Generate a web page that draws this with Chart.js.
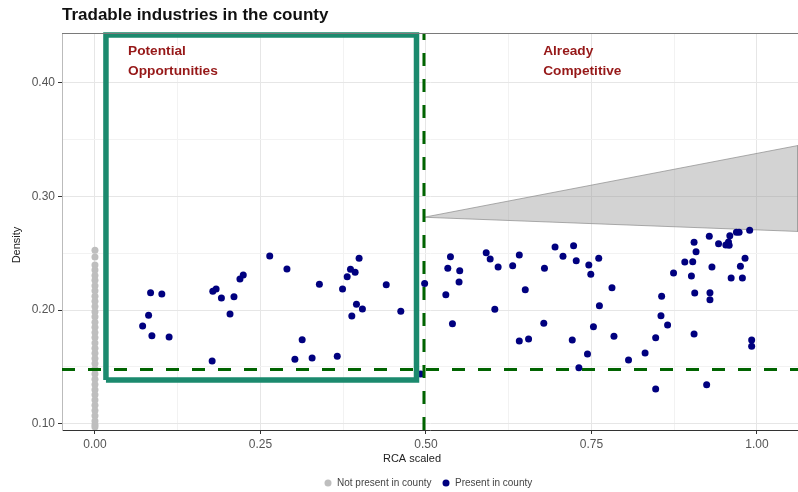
<!DOCTYPE html>
<html>
<head>
<meta charset="utf-8">
<script src="https://cdn.jsdelivr.net/npm/chart.js@4.4.1/dist/chart.umd.min.js"></script>
<style>
  html, body { margin: 0; padding: 0; background: #fff; }
  #wrap { width: 798px; height: 492px; }
</style>
</head>
<body>
<div id="wrap"><canvas id="chart" width="798" height="492"></canvas></div>
<script>
//Eixos
const xGrid = [0, 0.125, 0.25, 0.375, 0.5, 0.625, 0.75, 0.875, 1];
const yGrid = [0.10, 0.15, 0.20, 0.25, 0.30, 0.35, 0.40];
const xRange = [-0.0498, 1.062];
const yRange = [0.0943, 0.444];

//Industrias presentes no condado (RCA scaled, Density)
const presentX = [
  0.084, 0.101, 0.081, 0.072, 0.086, 0.112, 0.178, 0.183, 0.191, 0.210, 0.204,
  0.219, 0.224, 0.177, 0.264, 0.290, 0.339, 0.313, 0.302, 0.328, 0.366, 0.374,
  0.381, 0.386, 0.393, 0.399, 0.395, 0.404, 0.388, 0.440, 0.462, 0.498, 0.492,
  0.537, 0.533, 0.551, 0.550, 0.530, 0.540, 0.591, 0.597, 0.609, 0.604, 0.631,
  0.641, 0.650, 0.641, 0.655, 0.679, 0.678, 0.695, 0.707, 0.723, 0.727, 0.746,
  0.749, 0.761, 0.781, 0.762, 0.753, 0.784, 0.721, 0.744, 0.731, 0.806,
  0.831, 0.847, 0.847, 0.855, 0.865, 0.856, 0.874, 0.891, 0.903, 0.901, 0.905,
  0.908, 0.906, 0.905, 0.924, 0.928, 0.932, 0.929, 0.929, 0.942, 0.953, 0.957,
  0.958, 0.959, 0.961, 0.969, 0.973, 0.982, 0.975, 0.978, 0.989, 0.992, 0.992
];
const presentY = [
  0.2152, 0.2141, 0.1953, 0.1859, 0.1774, 0.1762, 0.2165, 0.2185, 0.2106, 0.2117, 0.1965,
  0.2273, 0.2308, 0.1551, 0.2476, 0.2361, 0.2226, 0.1738, 0.1566, 0.1577, 0.1592, 0.2185,
  0.2293, 0.2359, 0.2332, 0.2455, 0.2050, 0.2009, 0.1947, 0.2223, 0.1989, 0.2233, 0.1436,
  0.2470, 0.2367, 0.2346, 0.2247, 0.2135, 0.1879, 0.2505, 0.2449, 0.2379, 0.2006, 0.2390,
  0.2485, 0.2179, 0.1727, 0.1744, 0.2367, 0.1883, 0.2555, 0.2473, 0.2567, 0.2434, 0.2396,
  0.2315, 0.2456, 0.2196, 0.2038, 0.1853, 0.1768, 0.1736, 0.1612, 0.1492, 0.1559,
  0.1621, 0.1756, 0.1304, 0.1950, 0.1868, 0.2121, 0.2326, 0.2423, 0.2426, 0.2300, 0.2596,
  0.2514, 0.2150, 0.1789, 0.1342, 0.2649, 0.2379, 0.2152, 0.2091, 0.2584, 0.2573, 0.2599,
  0.2570, 0.2655, 0.2282, 0.2685, 0.2685, 0.2456, 0.2385, 0.2282, 0.2702, 0.1736, 0.1680
];

//Industrias ausentes (todas em RCA = 0)
const absentY = [
  0.2526, 0.2467, 0.2396, 0.2352, 0.2305, 0.2261, 0.2214, 0.2170, 0.2122, 0.2078,
  0.2031, 0.1985, 0.1940, 0.1893, 0.1848, 0.1801, 0.1757, 0.1710, 0.1664, 0.1619,
  0.1572, 0.1528, 0.1481, 0.1436, 0.1390, 0.1344, 0.1298, 0.1253, 0.1207, 0.1160,
  0.1115, 0.1069, 0.1023, 0.0990, 0.0970
];

//Linhas de referencia e marcacoes
const cutX = 0.497;
const cutY = 0.1476;
const boxX = [0.0166, 0.4857];
const boxY = [0.1383, 0.4423];
const wedgeX = [0.497, 1.062, 1.062];
const wedgeY = [0.2817, 0.3449, 0.2692];

const titleText = 'Tradable industries in the county';
const xTitle = 'RCA scaled';
const yTitle = 'Density';
const legendLabels = ['Not present in county', 'Present in county'];
const notes = [
  { lines: ['Potential', 'Opportunities'], x: 0.05 },
  { lines: ['Already', 'Competitive'], x: 0.677 }
];

const navy = '#00007f';
const grey = '#bebebe';
const teal = '#1b8a6e';
const dashGreen = '#006400';
const noteRed = '#961818';
const fontFam = '"Liberation Sans", Arial, Helvetica, sans-serif';

const present = presentX.map((x, i) => ({ x, y: presentY[i] }));
const absent = absentY.map(y => ({ x: 0, y }));
const box = [
  { x: boxX[0], y: boxY[0] }, { x: boxX[0], y: boxY[1] },
  { x: boxX[1], y: boxY[1] }, { x: boxX[1], y: boxY[0] },
  { x: boxX[0], y: boxY[0] }
];
const wedge = wedgeX.map((x, i) => ({ x, y: wedgeY[i] }));
wedge.push({ x: wedgeX[0], y: wedgeY[0] });

function isMajor(v, step) {
  const k = v / step;
  return Math.abs(k - Math.round(k)) < 1e-6;
}

//Textos fixos: titulo, eixos, anotacoes e legenda
const decorPlugin = {
  id: 'decor',
  afterDraw(chart) {
    const ctx = chart.ctx;
    const area = chart.chartArea;
    const xs = chart.scales.x;
    ctx.save();

    //borda superior do painel
    ctx.strokeStyle = '#7a7a7a';
    ctx.lineWidth = 1;
    ctx.beginPath();
    ctx.moveTo(area.left, area.top + 0.5);
    ctx.lineTo(area.right, area.top + 0.5);
    ctx.stroke();

    ctx.fillStyle = '#111';
    ctx.font = 'bold 17px ' + fontFam;
    ctx.textAlign = 'left';
    ctx.textBaseline = 'alphabetic';
    ctx.fillText(titleText, 62, 20);

    ctx.fillStyle = noteRed;
    ctx.font = 'bold 13.7px ' + fontFam;
    ctx.textBaseline = 'middle';
    notes.forEach(n => {
      const px = xs.getPixelForValue(n.x);
      ctx.fillText(n.lines[0], px, 51);
      ctx.fillText(n.lines[1], px, 71.5);
    });

    ctx.fillStyle = '#222';
    ctx.font = '11px ' + fontFam;
    ctx.textAlign = 'center';
    ctx.fillText(xTitle, 412, 459);

    ctx.save();
    ctx.translate(17, 245);
    ctx.rotate(-Math.PI / 2);
    ctx.fillText(yTitle, 0, 0);
    ctx.restore();

    //legenda
    ctx.font = '10px ' + fontFam;
    ctx.textAlign = 'left';
    ctx.fillStyle = grey;
    ctx.beginPath();
    ctx.arc(328, 483, 3.5, 0, Math.PI * 2);
    ctx.fill();
    ctx.fillStyle = navy;
    ctx.beginPath();
    ctx.arc(446, 483, 3.5, 0, Math.PI * 2);
    ctx.fill();
    ctx.fillStyle = '#444';
    ctx.fillText(legendLabels[0], 337, 483);
    ctx.fillText(legendLabels[1], 455, 483);

    ctx.restore();
  }
};

new Chart(document.getElementById('chart').getContext('2d'), {
  type: 'scatter',
  data: {
    datasets: [
      {
        label: 'box',
        data: box,
        showLine: true,
        borderColor: teal,
        borderWidth: 5.5,
        pointRadius: 0,
        fill: false,
        clip: 8,
        order: 0
      },
      {
        label: 'vline',
        data: [{ x: cutX, y: yRange[0] }, { x: cutX, y: yRange[1] }],
        showLine: true,
        borderColor: dashGreen,
        borderWidth: 3,
        borderDash: [13, 13],
        pointRadius: 0,
        order: 1
      },
      {
        label: 'hline',
        data: [{ x: xRange[0], y: cutY }, { x: xRange[1], y: cutY }],
        showLine: true,
        borderColor: dashGreen,
        borderWidth: 3,
        borderDash: [13, 13],
        pointRadius: 0,
        order: 1
      },
      {
        label: 'Present in county',
        data: present,
        backgroundColor: navy,
        borderWidth: 0,
        pointRadius: 3.5,
        order: 2
      },
      {
        label: 'Not present in county',
        data: absent,
        backgroundColor: grey,
        borderWidth: 0,
        pointRadius: 3.5,
        order: 3
      },
      {
        label: 'wedge',
        data: wedge,
        showLine: true,
        borderColor: 'rgba(140,140,140,0.7)',
        borderWidth: 1,
        backgroundColor: 'rgba(150,150,150,0.42)',
        fill: 'shape',
        pointRadius: 0,
        order: 4
      }
    ]
  },
  options: {
    responsive: false,
    animation: false,
    events: [],
    layout: { autoPadding: false, padding: { top: 33, right: 0, left: 0, bottom: 0 } },
    plugins: {
      legend: { display: false },
      title: { display: false },
      tooltip: { enabled: false }
    },
    scales: {
      x: {
        type: 'linear',
        min: xRange[0],
        max: xRange[1],
        afterBuildTicks: s => { s.ticks = xGrid.map(v => ({ value: v })); },
        afterFit: s => { s.height = 62; },
        border: { color: '#333', width: 1 },
        grid: {
          color: c => isMajor(c.tick.value, 0.25) ? '#e6e6e6' : '#f2f2f2',
          lineWidth: 1,
          tickLength: 4,
          tickColor: c => isMajor(c.tick.value, 0.25) ? '#333' : 'rgba(0,0,0,0)'
        },
        ticks: {
          padding: 3,
          maxRotation: 0,
          autoSkip: false,
          color: '#555',
          font: { family: fontFam, size: 12 },
          callback: v => isMajor(v, 0.25) ? v.toFixed(2) : ''
        }
      },
      y: {
        type: 'linear',
        min: yRange[0],
        max: yRange[1],
        afterBuildTicks: s => { s.ticks = yGrid.map(v => ({ value: v })); },
        afterFit: s => { s.width = 62; },
        border: { color: '#bbb', width: 1 },
        grid: {
          color: c => isMajor(c.tick.value, 0.1) ? '#e6e6e6' : '#f2f2f2',
          lineWidth: 1,
          tickLength: 4,
          tickColor: c => isMajor(c.tick.value, 0.1) ? '#333' : 'rgba(0,0,0,0)'
        },
        ticks: {
          padding: 3,
          autoSkip: false,
          color: '#555',
          font: { family: fontFam, size: 12 },
          callback: v => isMajor(v, 0.1) ? v.toFixed(2) : ''
        }
      }
    }
  },
  plugins: [decorPlugin]
});
</script>
</body>
</html>
